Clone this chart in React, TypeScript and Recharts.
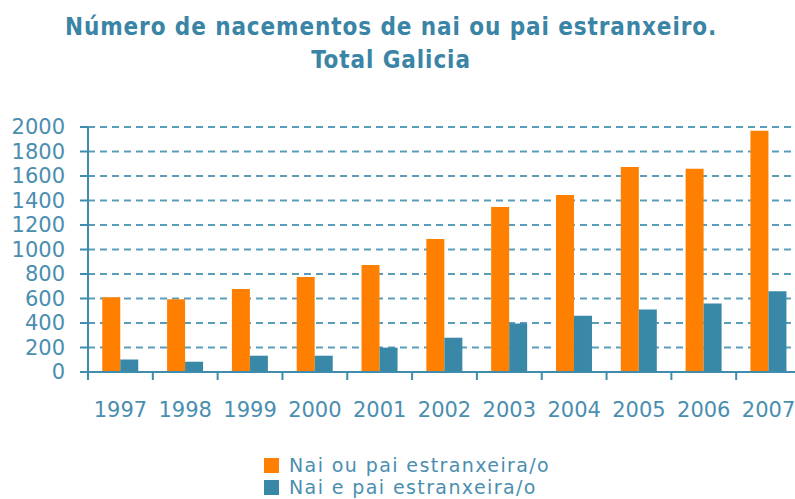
import React from 'react';
import { BarChart, Bar, XAxis, YAxis, CartesianGrid, Legend } from 'recharts';

const YEARS = ['1997', '1998', '1999', '2000', '2001', '2002', '2003', '2004', '2005', '2006', '2007'];
const NAI_OU_PAI = [610, 593, 678, 775, 873, 1086, 1347, 1445, 1673, 1660, 1970];
const NAI_E_PAI = [103, 84, 133, 133, 199, 280, 395, 460, 511, 560, 659];
const Y_TICKS = [0, 200, 400, 600, 800, 1000, 1200, 1400, 1600, 1800, 2000];

const SERIES = [
  { key: 'ouPai', name: 'Nai ou pai estranxeira/o', color: '#ff8000' },
  { key: 'ePai', name: 'Nai e pai estranxeira/o', color: '#3a88a8' },
];

const THEME = {
  axis: '#3f8cad',
  grid: '#5a9dbb',
  text: '#4a8eb0',
  title: '#3a84a6',
  font: '"DejaVu Sans", Verdana, sans-serif',
};

const CHART_W = 801;
const CHART_H = 499;
const LEFT = 88;
const BAND = (CHART_W - LEFT) / YEARS.length;

const data = YEARS.map((y, i) => ({ year: y, ouPai: NAI_OU_PAI[i], ePai: NAI_E_PAI[i] }));

// year label + tick mark at the left edge of each category
function YearTick({ x, y, payload }: any) {
  const bx = x - BAND / 2;
  return (
    <g>
      <line x1={bx} y1={y - 8} x2={bx} y2={y} stroke={THEME.axis} strokeWidth={2} />
      <text x={x} y={y + 37} textAnchor="middle" fill={THEME.text} fontSize={21} fontFamily={THEME.font}>
        {payload.value}
      </text>
    </g>
  );
}

function LegendBox() {
  return (
    <div style={{ fontFamily: THEME.font, fontSize: 19, color: THEME.text, lineHeight: '22px', letterSpacing: 1.4 }}>
      {SERIES.map(s => (
        <div key={s.key} style={{ display: 'flex', alignItems: 'center', whiteSpace: 'nowrap' }}>
          <span style={{ display: 'inline-block', width: 15, height: 15, background: s.color, marginRight: 10 }} />
          <span>{s.name}</span>
        </div>
      ))}
    </div>
  );
}

export default function App() {
  return (
    <div style={{ position: 'absolute', left: 0, top: 0, width: 795, height: 499, overflow: 'hidden', background: '#fff' }}>
      <div
        style={{
          position: 'absolute', left: 0, top: 11, width: 782, textAlign: 'center',
          fontFamily: '"DejaVu Sans Condensed", "DejaVu Sans", sans-serif', fontWeight: 'bold',
          fontSize: 24, lineHeight: '33px', letterSpacing: 0.9, color: THEME.title,
        }}
      >
        <div>Número de nacementos de nai ou pai estranxeiro.</div>
        <div>Total Galicia</div>
      </div>
      <BarChart
        width={CHART_W}
        height={CHART_H}
        data={data}
        margin={{ top: 127, right: 0, bottom: 0, left: 0 }}
        barCategoryGap="22%"
        barGap={0}
      >
        <CartesianGrid
          horizontal
          vertical={false}
          stroke={THEME.grid}
          strokeWidth={2}
          strokeDasharray="7 5"
        />
        <XAxis
          dataKey="year"
          height={127}
          axisLine={{ stroke: THEME.axis, strokeWidth: 2 }}
          tickLine={false}
          tickSize={8}
          tickMargin={0}
          interval={0}
          tick={<YearTick />}
        />
        <YAxis
          width={LEFT}
          domain={[0, 2000]}
          ticks={Y_TICKS}
          interval={0}
          axisLine={{ stroke: THEME.axis, strokeWidth: 2 }}
          tickLine={{ stroke: THEME.axis, strokeWidth: 2 }}
          tickSize={8}
          tickMargin={15}
          tick={{ fill: THEME.text, fontSize: 21, fontFamily: THEME.font }}
        />
        <Legend
          layout="vertical"
          verticalAlign="middle"
          align="center"
          content={<LegendBox />}
          wrapperStyle={{ top: 454, left: 264, width: 330 }}
        />
        {SERIES.map(s => (
          <Bar key={s.key} dataKey={s.key} name={s.name} fill={s.color} isAnimationActive={false} />
        ))}
      </BarChart>
    </div>
  );
}
